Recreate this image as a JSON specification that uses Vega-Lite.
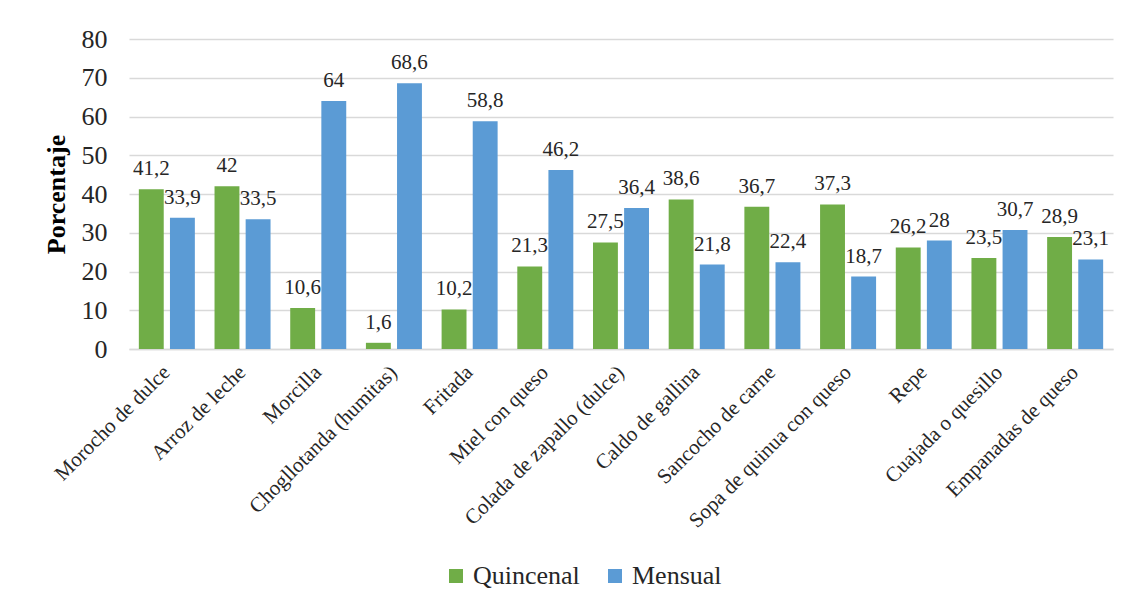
{
  "$schema": "https://vega.github.io/schema/vega-lite/v6.json",
  "autosize": "none",
  "width": 984,
  "height": 310,
  "padding": {"left": 129, "top": 39, "right": 17, "bottom": 257},
  "background": "white",
  "config": {
    "locale": {"number": {"decimal": ",", "thousands": ".", "grouping": [3], "currency": ["", " €"]}},
    "font": "'Liberation Serif', 'Times New Roman', Times, serif",
    "view": {"stroke": null}
  },
  "data": {
    "values": [
      {"plato": "Morocho de dulce", "frecuencia": "Quincenal", "valor": 41.2},
      {"plato": "Morocho de dulce", "frecuencia": "Mensual", "valor": 33.9},
      {"plato": "Arroz de leche", "frecuencia": "Quincenal", "valor": 42},
      {"plato": "Arroz de leche", "frecuencia": "Mensual", "valor": 33.5},
      {"plato": "Morcilla", "frecuencia": "Quincenal", "valor": 10.6},
      {"plato": "Morcilla", "frecuencia": "Mensual", "valor": 64},
      {"plato": "Chogllotanda (humitas)", "frecuencia": "Quincenal", "valor": 1.6},
      {"plato": "Chogllotanda (humitas)", "frecuencia": "Mensual", "valor": 68.6},
      {"plato": "Fritada", "frecuencia": "Quincenal", "valor": 10.2},
      {"plato": "Fritada", "frecuencia": "Mensual", "valor": 58.8},
      {"plato": "Miel con queso", "frecuencia": "Quincenal", "valor": 21.3},
      {"plato": "Miel con queso", "frecuencia": "Mensual", "valor": 46.2},
      {"plato": "Colada de zapallo (dulce)", "frecuencia": "Quincenal", "valor": 27.5},
      {"plato": "Colada de zapallo (dulce)", "frecuencia": "Mensual", "valor": 36.4},
      {"plato": "Caldo de gallina", "frecuencia": "Quincenal", "valor": 38.6},
      {"plato": "Caldo de gallina", "frecuencia": "Mensual", "valor": 21.8},
      {"plato": "Sancocho de carne", "frecuencia": "Quincenal", "valor": 36.7},
      {"plato": "Sancocho de carne", "frecuencia": "Mensual", "valor": 22.4},
      {"plato": "Sopa de quinua con queso", "frecuencia": "Quincenal", "valor": 37.3},
      {"plato": "Sopa de quinua con queso", "frecuencia": "Mensual", "valor": 18.7},
      {"plato": "Repe", "frecuencia": "Quincenal", "valor": 26.2},
      {"plato": "Repe", "frecuencia": "Mensual", "valor": 28},
      {"plato": "Cuajada o quesillo", "frecuencia": "Quincenal", "valor": 23.5},
      {"plato": "Cuajada o quesillo", "frecuencia": "Mensual", "valor": 30.7},
      {"plato": "Empanadas de queso", "frecuencia": "Quincenal", "valor": 28.9},
      {"plato": "Empanadas de queso", "frecuencia": "Mensual", "valor": 23.1}
    ]
  },
  "encoding": {
    "x": {
      "field": "plato",
      "type": "nominal",
      "sort": null,
      "scale": {"paddingInner": 0.26, "paddingOuter": 0.13},
      "axis": {
        "title": null,
        "labelAngle": -45,
        "labelAlign": "right",
        "labelBaseline": "middle",
        "labelFontSize": 21,
        "labelColor": "#262626",
        "labelPadding": 20,
        "labelLimit": 400,
        "ticks": false,
        "domainColor": "#D9D9D9",
        "domainWidth": 1.5
      }
    },
    "xOffset": {
      "field": "frecuencia",
      "type": "nominal",
      "sort": ["Quincenal", "Mensual"],
      "scale": {"paddingInner": 0.2, "paddingOuter": 0}
    },
    "y": {
      "field": "valor",
      "type": "quantitative",
      "scale": {"domain": [0, 80], "nice": false},
      "axis": {
        "title": "Porcentaje",
        "titleFontSize": 26,
        "titleFontWeight": "bold",
        "titleColor": "#000000",
        "titlePadding": 12,
        "values": [0, 10, 20, 30, 40, 50, 60, 70, 80],
        "labelFontSize": 26,
        "labelColor": "#262626",
        "labelPadding": 22,
        "ticks": false,
        "domain": false,
        "gridColor": "#D9D9D9",
        "gridWidth": 1.5
      }
    }
  },
  "layer": [
    {
      "mark": {"type": "bar"},
      "encoding": {
        "color": {
          "field": "frecuencia",
          "type": "nominal",
          "sort": ["Quincenal", "Mensual"],
          "scale": {"domain": ["Quincenal", "Mensual"], "range": ["#70AD47", "#5B9BD5"]},
          "legend": {
            "title": null,
            "orient": "none",
            "direction": "horizontal",
            "legendX": 314,
            "legendY": 524,
            "symbolType": "square",
            "symbolSize": 196,
            "symbolStrokeWidth": 0,
            "labelFontSize": 26,
            "labelColor": "#262626",
            "labelOffset": 4,
            "columnPadding": 22
          }
        }
      }
    },
    {
      "mark": {"type": "text", "fontSize": 21, "color": "#262626", "baseline": "alphabetic", "dy": -14},
      "encoding": {
        "text": {"field": "valor", "type": "quantitative", "format": ".1~f"}
      }
    }
  ]
}
